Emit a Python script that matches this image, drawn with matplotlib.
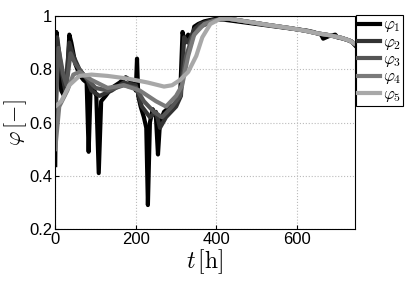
import matplotlib
matplotlib.use("Agg")
import matplotlib.pyplot as plt
import numpy as np

plt.rcParams["font.family"] = ["Liberation Sans", "DejaVu Sans"]
plt.rcParams["mathtext.fontset"] = "cm"

# common tail (all five series coincide after ~400 h)
t_tail = [430, 480, 530, 580, 620, 650, 680, 710, 730, 744]
phi_tail = [0.99, 0.978, 0.966, 0.955, 0.945, 0.935, 0.928, 0.918, 0.908, 0.895]

t1 = [0, 3, 8, 15, 22, 30, 35, 40, 50, 60, 70, 78, 83, 88, 95, 102, 108, 114, 125,
      140, 160, 175, 185, 195, 200, 203, 206, 212, 220, 226, 230, 235, 242, 250, 255,
      260, 270, 285, 300, 310, 316, 322, 330, 338, 345, 355, 370, 400,
      600, 625, 640, 660, 665, 680, 695, 700, 715, 735, 744]
phi1 = [0.44, 0.94, 0.85, 0.72, 0.70, 0.78, 0.93, 0.90, 0.82, 0.78, 0.76, 0.75, 0.49, 0.74,
        0.73, 0.70, 0.41, 0.68, 0.70, 0.73, 0.75, 0.77, 0.76, 0.74, 0.72, 0.84, 0.70, 0.66,
        0.62, 0.58, 0.29, 0.60, 0.65, 0.62, 0.48, 0.60, 0.64, 0.66, 0.67, 0.70, 0.94, 0.90,
        0.93, 0.90, 0.96, 0.97, 0.98, 0.99,
        0.95, 0.945, 0.94, 0.93, 0.915, 0.925, 0.93, 0.92, 0.915, 0.905, 0.89]

t2 = [0, 5, 15, 25, 35, 45, 60, 80, 90, 110, 140, 170, 200, 215, 235, 250, 260, 275,
      300, 312, 320, 330, 345, 360, 390]
phi2 = [0.55, 0.92, 0.80, 0.72, 0.90, 0.85, 0.80, 0.76, 0.72, 0.70, 0.72, 0.75, 0.74, 0.66,
        0.62, 0.64, 0.58, 0.62, 0.66, 0.70, 0.92, 0.90, 0.95, 0.97, 0.985]

t3 = [0, 8, 20, 28, 38, 50, 70, 100, 130, 170, 200, 220, 245, 265, 290, 310, 325, 340,
      360, 400]
phi3 = [0.60, 0.88, 0.78, 0.74, 0.86, 0.82, 0.78, 0.73, 0.72, 0.74, 0.73, 0.68, 0.64, 0.62,
        0.66, 0.70, 0.85, 0.92, 0.96, 0.985]

t4 = [0, 10, 30, 45, 60, 90, 130, 170, 210, 250, 275, 300, 315, 330, 345, 370, 400]
phi4 = [0.50, 0.66, 0.72, 0.78, 0.79, 0.76, 0.73, 0.74, 0.72, 0.68, 0.66, 0.70, 0.74, 0.85,
        0.93, 0.97, 0.985]

t5 = [0, 15, 35, 60, 90, 130, 180, 230, 270, 290, 310, 330, 350, 365, 385, 410]
phi5 = [0.66, 0.68, 0.74, 0.775, 0.78, 0.775, 0.765, 0.75, 0.735, 0.74, 0.76, 0.79, 0.85,
        0.92, 0.97, 0.99]

series = [
    (t1, phi1, "black", r"$\varphi_1$"),
    (t2 + t_tail, phi2 + phi_tail, "#333333", r"$\varphi_2$"),
    (t3 + t_tail, phi3 + phi_tail, "#555555", r"$\varphi_3$"),
    (t4 + t_tail, phi4 + phi_tail, "#7a7a7a", r"$\varphi_4$"),
    (t5 + t_tail, phi5 + phi_tail, "#a8a8a8", r"$\varphi_5$"),
]

fig = plt.figure(figsize=(4.09, 2.81), dpi=100)
ax = fig.add_axes([0.135, 0.185, 0.733, 0.758])

for t, phi, color, label in series:
    ax.plot(t, phi, color=color, linewidth=3.0, label=label, solid_joinstyle="round")

ax.set_xlim(0, 744)
ax.set_ylim(0.2, 1.0)
ax.set_xticks([0, 200, 400, 600])
ax.set_yticks([0.2, 0.4, 0.6, 0.8, 1.0])
ax.set_yticklabels(["0.2", "0.4", "0.6", "0.8", "1"])
ax.tick_params(direction="in", labelsize=12, length=3, pad=2)
ax.grid(True, linestyle=":", color="#bbbbbb", linewidth=0.8)
ax.set_xlabel(r"$t\,[\mathrm{h}]$", fontsize=17, labelpad=0)
ax.set_ylabel(r"$\varphi\,[-]$", fontsize=16, labelpad=0)

leg = ax.legend(loc="upper left", bbox_to_anchor=(1.003, 1.005), fontsize=12,
                handlelength=1.3, handletextpad=0.15, borderpad=0.15, labelspacing=0.02,
                borderaxespad=0, fancybox=False, framealpha=1, edgecolor="black")
leg.get_frame().set_linewidth(0.8)

fig.savefig("out.png", dpi=100)
